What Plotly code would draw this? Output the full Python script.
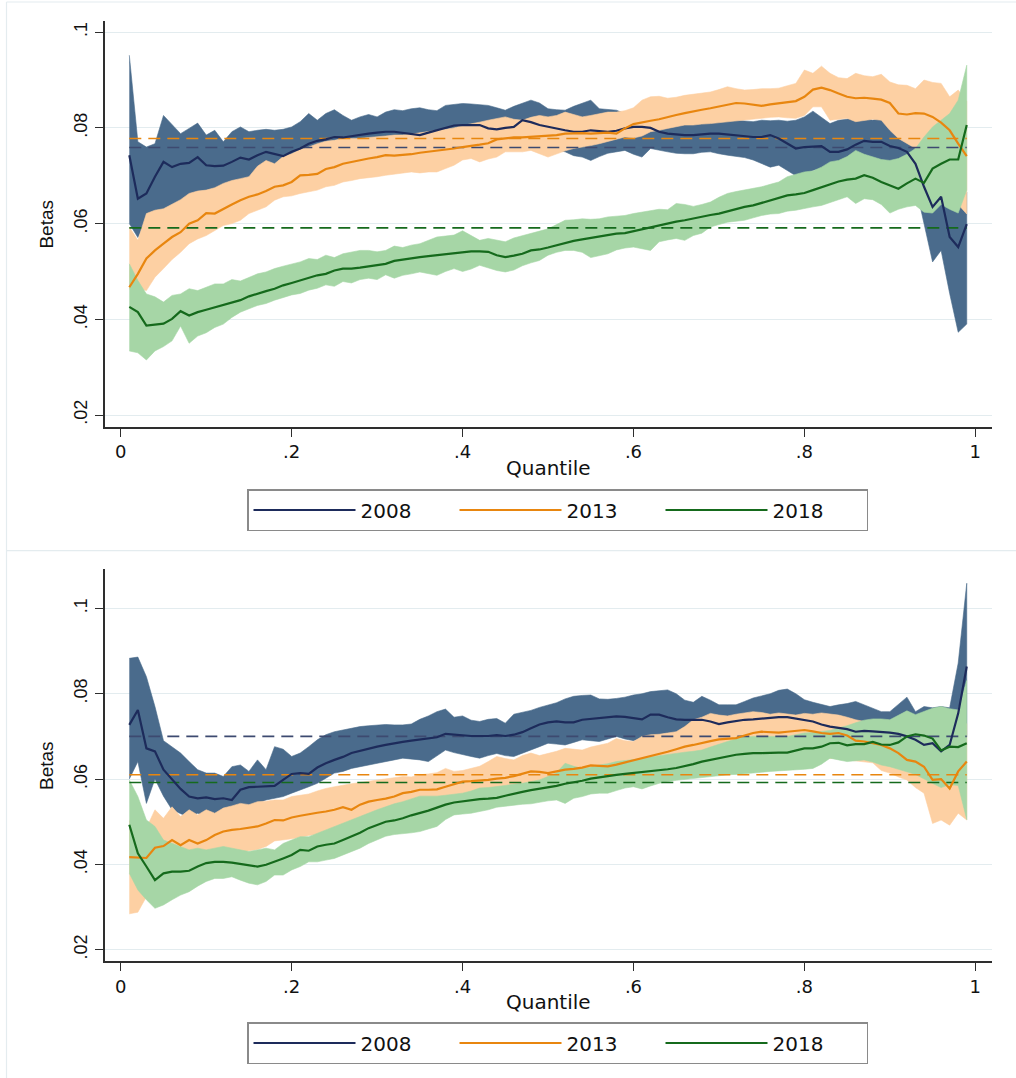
import plotly.graph_objects as go

# ---------------- data ----------------
quantile = [0.01, 0.02, 0.03, 0.04, 0.05, 0.06, 0.07, 0.08, 0.09, 0.10,
            0.11, 0.12, 0.13, 0.14, 0.15, 0.16, 0.17, 0.18, 0.19, 0.20,
            0.21, 0.22, 0.23, 0.24, 0.25, 0.26, 0.27, 0.28, 0.29, 0.30,
            0.31, 0.32, 0.33, 0.34, 0.35, 0.36, 0.37, 0.38, 0.39, 0.40,
            0.41, 0.42, 0.43, 0.44, 0.45, 0.46, 0.47, 0.48, 0.49, 0.50,
            0.51, 0.52, 0.53, 0.54, 0.55, 0.56, 0.57, 0.58, 0.59, 0.60,
            0.61, 0.62, 0.63, 0.64, 0.65, 0.66, 0.67, 0.68, 0.69, 0.70,
            0.71, 0.72, 0.73, 0.74, 0.75, 0.76, 0.77, 0.78, 0.79, 0.80,
            0.81, 0.82, 0.83, 0.84, 0.85, 0.86, 0.87, 0.88, 0.89, 0.90,
            0.91, 0.92, 0.93, 0.94, 0.95, 0.96, 0.97, 0.98, 0.99]

years = ["2008", "2013", "2018"]

# ---- top panel ----
top_2008 = [.0743, .0652, .0663, .0698, .0729, .0718, .0725, .0727, .0739, .0722,
            .0720, .0721, .0729, .0738, .0734, .0743, .0750, .0746, .0741, .0750,
            .0757, .0767, .0773, .0776, .0781, .0780, .0783, .0785, .0788, .0790,
            .0792, .0792, .0790, .0788, .0785, .0790, .0795, .0800, .0805, .0806,
            .0806, .0806, .0799, .0797, .0800, .0802, .0816, .0812, .0806, .0802,
            .0798, .0795, .0792, .0792, .0795, .0793, .0792, .0794, .0799, .0802,
            .0802, .0800, .0792, .0788, .0786, .0785, .0785, .0787, .0788, .0788,
            .0786, .0784, .0782, .0781, .0781, .0785, .0778, .0768, .0757, .0760,
            .0761, .0762, .0750, .0750, .0755, .0765, .0773, .0771, .0771, .0762,
            .0758, .0750, .0725, .0677, .0635, .0656, .0572, .0551, .0599]
top_2008_hi = [.0952, .0771, .0760, .0767, .0826, .0806, .0788, .0799, .0810, .0785,
               .0795, .0771, .0792, .0802, .0792, .0795, .0797, .0795, .0797, .0802,
               .0813, .0830, .0816, .0830, .0838, .0826, .0816, .0823, .0828, .0823,
               .0833, .0838, .0836, .0840, .0842, .0838, .0836, .0847, .0849, .0851,
               .0850, .0848, .0847, .0842, .0837, .0845, .0851, .0858, .0852, .0840,
               .0838, .0837, .0845, .0852, .0858, .0840, .0838, .0837, .0830, .0823,
               .0820, .0818, .0818, .0820, .0818, .0816, .0816, .0818, .0818, .0816,
               .0815, .0816, .0815, .0813, .0816, .0815, .0816, .0814, .0816, .0823,
               .0835, .0822, .0809, .0816, .0818, .0820, .0823, .0816, .0823, .0809,
               .0781, .0775, .0767, .0720, .0690, .0695, .0660, .0640, .0665]
top_2008_lo = [.0600, .0571, .0607, .0614, .0624, .0631, .0638, .0645, .0656, .0663,
               .0666, .0670, .0677, .0684, .0685, .0698, .0695, .0701, .0706, .0708,
               .0718, .0732, .0739, .0750, .0753, .0756, .0756, .0760, .0758, .0761,
               .0763, .0761, .0763, .0760, .0758, .0762, .0765, .0765, .0766, .0768,
               .0768, .0765, .0760, .0758, .0760, .0762, .0775, .0770, .0766, .0762,
               .0755, .0750, .0742, .0739, .0732, .0740, .0747, .0750, .0753, .0745,
               .0739, .0757, .0753, .0750, .0747, .0746, .0746, .0749, .0750, .0746,
               .0743, .0740, .0738, .0733, .0725, .0718, .0722, .0711, .0700, .0703,
               .0711, .0716, .0718, .0720, .0722, .0725, .0728, .0728, .0725, .0715,
               .0712, .0700, .0680, .0600, .0520, .0544, .0454, .0373, .0390]

top_2013 = [.0467, .0495, .0527, .0544, .0558, .0572, .0582, .0600, .0607, .0622,
            .0621, .0631, .0640, .0649, .0656, .0661, .0668, .0677, .0680, .0687,
            .0701, .0702, .0704, .0714, .0718, .0725, .0729, .0732, .0736, .0739,
            .0743, .0742, .0743, .0745, .0748, .0750, .0752, .0754, .0757, .0760,
            .0762, .0765, .0768, .0776, .0778, .0780, .0780, .0781, .0783, .0784,
            .0785, .0788, .0789, .0789, .0788, .0789, .0790, .0788, .0799, .0808,
            .0812, .0815, .0818, .0823, .0827, .0831, .0835, .0838, .0841, .0845,
            .0849, .0852, .0851, .0848, .0846, .0849, .0851, .0853, .0856, .0865,
            .0880, .0884, .0879, .0872, .0865, .0862, .0863, .0861, .0859, .0852,
            .0830, .0828, .0831, .0830, .0823, .0811, .0795, .0767, .0741]
top_2013_hi = [.0593, .0565, .0621, .0628, .0631, .0640, .0650, .0663, .0668, .0670,
               .0675, .0684, .0690, .0694, .0698, .0720, .0732, .0725, .0740, .0746,
               .0755, .0760, .0767, .0772, .0774, .0778, .0778, .0778, .0780, .0781,
               .0783, .0785, .0785, .0787, .0790, .0793, .0795, .0797, .0800, .0805,
               .0808, .0812, .0816, .0820, .0823, .0818, .0816, .0822, .0826, .0823,
               .0826, .0833, .0828, .0823, .0826, .0830, .0833, .0833, .0836, .0842,
               .0858, .0865, .0866, .0862, .0864, .0868, .0870, .0872, .0875, .0880,
               .0886, .0882, .0879, .0880, .0882, .0882, .0883, .0888, .0893, .0921,
               .0914, .0929, .0914, .0905, .0903, .0914, .0909, .0907, .0912, .0896,
               .0890, .0889, .0882, .0900, .0895, .0893, .0865, .0879, .0855]
top_2013_lo = [.0463, .0465, .0460, .0488, .0506, .0525, .0540, .0558, .0568, .0575,
               .0585, .0596, .0600, .0607, .0621, .0628, .0635, .0649, .0656, .0658,
               .0663, .0667, .0670, .0677, .0680, .0687, .0690, .0694, .0696, .0698,
               .0701, .0704, .0706, .0708, .0706, .0708, .0708, .0715, .0722, .0733,
               .0736, .0729, .0735, .0739, .0750, .0750, .0750, .0753, .0746, .0739,
               .0745, .0752, .0757, .0760, .0763, .0767, .0772, .0776, .0781, .0779,
               .0783, .0792, .0795, .0799, .0803, .0806, .0806, .0808, .0809, .0811,
               .0813, .0815, .0816, .0818, .0820, .0822, .0823, .0821, .0820, .0826,
               .0844, .0844, .0816, .0818, .0820, .0813, .0816, .0818, .0816, .0795,
               .0778, .0768, .0757, .0730, .0710, .0690, .0665, .0640, .0620]

top_2018 = [.0426, .0415, .0387, .0389, .0391, .0401, .0417, .0408, .0415, .0420,
            .0425, .0431, .0436, .0440, .0448, .0454, .0459, .0464, .0471, .0476,
            .0481, .0487, .0492, .0495, .0502, .0506, .0506, .0508, .0511, .0513,
            .0516, .0522, .0525, .0528, .0530, .0532, .0534, .0535, .0537, .0539,
            .0542, .0542, .0541, .0534, .0530, .0533, .0537, .0544, .0546, .0550,
            .0555, .0560, .0564, .0567, .0570, .0572, .0576, .0579, .0580, .0584,
            .0588, .0593, .0597, .0600, .0604, .0607, .0611, .0614, .0618, .0621,
            .0626, .0630, .0635, .0638, .0643, .0648, .0653, .0659, .0661, .0664,
            .0670, .0676, .0682, .0688, .0692, .0694, .0701, .0696, .0687, .0680,
            .0673, .0684, .0694, .0685, .0715, .0725, .0734, .0734, .0806]
top_2018_hi = [.0516, .0481, .0453, .0447, .0436, .0450, .0453, .0464, .0460, .0467,
               .0474, .0474, .0483, .0480, .0488, .0495, .0499, .0506, .0511, .0516,
               .0520, .0527, .0525, .0534, .0529, .0537, .0541, .0544, .0544, .0541,
               .0544, .0553, .0550, .0555, .0558, .0565, .0572, .0574, .0576, .0585,
               .0575, .0565, .0569, .0566, .0562, .0570, .0575, .0579, .0585, .0589,
               .0598, .0607, .0608, .0610, .0609, .0610, .0614, .0615, .0617, .0621,
               .0624, .0628, .0630, .0629, .0642, .0640, .0636, .0640, .0645, .0655,
               .0663, .0667, .0670, .0673, .0677, .0682, .0687, .0698, .0703, .0708,
               .0710, .0718, .0729, .0732, .0740, .0753, .0745, .0740, .0734, .0732,
               .0736, .0745, .0757, .0781, .0802, .0816, .0830, .0858, .0931]
top_2018_lo = [.0334, .0330, .0315, .0334, .0343, .0355, .0386, .0350, .0365, .0372,
               .0383, .0390, .0404, .0415, .0422, .0429, .0433, .0440, .0446, .0451,
               .0454, .0461, .0465, .0472, .0469, .0479, .0476, .0483, .0486, .0483,
               .0493, .0486, .0492, .0495, .0499, .0495, .0492, .0500, .0506, .0500,
               .0505, .0513, .0508, .0502, .0499, .0503, .0512, .0518, .0523, .0534,
               .0540, .0544, .0544, .0540, .0529, .0533, .0537, .0545, .0549, .0551,
               .0547, .0544, .0562, .0566, .0569, .0565, .0575, .0580, .0593, .0598,
               .0603, .0605, .0607, .0612, .0617, .0620, .0621, .0626, .0628, .0631,
               .0635, .0638, .0645, .0650, .0656, .0642, .0652, .0650, .0640, .0622,
               .0630, .0635, .0638, .0624, .0622, .0640, .0630, .0622, .0670]

top_mean = [0.0759, 0.0778, 0.0591]   # 2008, 2013, 2018 (dashed)

# ---- bottom panel ----
bot_2008 = [.0727, .0762, .0672, .0665, .0622, .0600, .0577, .0559, .0555, .0557,
            .0553, .0555, .0551, .0575, .0581, .0582, .0583, .0584, .0598, .0612,
            .0614, .0612, .0627, .0637, .0645, .0652, .0661, .0666, .0672, .0676,
            .0680, .0684, .0687, .0690, .0693, .0695, .0698, .0706, .0704, .0703,
            .0701, .0701, .0701, .0703, .0701, .0704, .0710, .0719, .0728, .0733,
            .0735, .0733, .0733, .0739, .0741, .0744, .0746, .0747, .0746, .0743,
            .0740, .0751, .0751, .0745, .0740, .0739, .0739, .0739, .0735, .0729,
            .0733, .0736, .0739, .0740, .0742, .0744, .0745, .0745, .0742, .0739,
            .0735, .0728, .0723, .0720, .0717, .0711, .0713, .0712, .0711, .0709,
            .0706, .0700, .0692, .0680, .0684, .0665, .0680, .0754, .0864]
bot_2008_hi = [.0883, .0886, .0840, .0770, .0690, .0676, .0661, .0641, .0622, .0614,
               .0614, .0606, .0629, .0633, .0618, .0645, .0622, .0676, .0670, .0653,
               .0661, .0676, .0692, .0704, .0711, .0715, .0719, .0723, .0725, .0727,
               .0728, .0727, .0727, .0729, .0740, .0748, .0758, .0764, .0745, .0748,
               .0738, .0735, .0740, .0742, .0731, .0752, .0756, .0761, .0768, .0774,
               .0779, .0788, .0794, .0796, .0797, .0788, .0787, .0789, .0792, .0797,
               .0800, .0805, .0807, .0809, .0800, .0785, .0780, .0794, .0785, .0774,
               .0774, .0774, .0782, .0790, .0795, .0800, .0808, .0811, .0800, .0786,
               .0780, .0775, .0770, .0774, .0777, .0782, .0774, .0766, .0758, .0758,
               .0775, .0792, .0758, .0770, .0767, .0770, .0767, .0872, .1059]
bot_2008_lo = [.0600, .0641, .0543, .0600, .0560, .0528, .0520, .0510, .0520, .0512,
               .0504, .0520, .0528, .0536, .0540, .0543, .0551, .0555, .0559, .0567,
               .0575, .0582, .0590, .0602, .0614, .0618, .0625, .0629, .0633, .0637,
               .0641, .0645, .0649, .0647, .0645, .0641, .0655, .0668, .0662, .0657,
               .0653, .0649, .0655, .0660, .0655, .0653, .0660, .0668, .0676, .0684,
               .0682, .0680, .0686, .0692, .0690, .0688, .0694, .0700, .0694, .0690,
               .0696, .0700, .0704, .0708, .0703, .0700, .0700, .0698, .0697, .0695,
               .0697, .0699, .0700, .0700, .0700, .0700, .0698, .0696, .0695, .0692,
               .0690, .0686, .0682, .0680, .0678, .0673, .0670, .0667, .0664, .0660,
               .0655, .0648, .0640, .0633, .0630, .0600, .0620, .0660, .0700]

bot_2013 = [.0417, .0416, .0415, .0439, .0443, .0457, .0445, .0457, .0449, .0457,
            .0469, .0477, .0481, .0483, .0486, .0489, .0496, .0504, .0503, .0510,
            .0514, .0518, .0521, .0524, .0528, .0534, .0528, .0540, .0547, .0551,
            .0554, .0559, .0567, .0570, .0575, .0575, .0576, .0582, .0588, .0594,
            .0595, .0596, .0598, .0601, .0603, .0607, .0612, .0618, .0617, .0614,
            .0618, .0622, .0624, .0627, .0632, .0631, .0630, .0634, .0639, .0643,
            .0648, .0654, .0659, .0664, .0670, .0676, .0680, .0685, .0689, .0693,
            .0694, .0696, .0702, .0708, .0711, .0710, .0709, .0711, .0713, .0715,
            .0712, .0708, .0706, .0708, .0702, .0690, .0688, .0684, .0680, .0672,
            .0661, .0645, .0641, .0629, .0598, .0600, .0578, .0618, .0641]
bot_2013_hi = [.0500, .0543, .0485, .0528, .0508, .0535, .0512, .0528, .0516, .0528,
               .0520, .0532, .0537, .0543, .0540, .0547, .0548, .0551, .0551, .0559,
               .0562, .0565, .0572, .0578, .0582, .0586, .0589, .0592, .0595, .0598,
               .0600, .0603, .0606, .0605, .0610, .0612, .0615, .0625, .0618, .0620,
               .0625, .0630, .0641, .0653, .0648, .0645, .0655, .0661, .0655, .0660,
               .0665, .0672, .0670, .0668, .0675, .0680, .0684, .0695, .0690, .0688,
               .0700, .0704, .0705, .0708, .0711, .0723, .0739, .0745, .0754, .0750,
               .0748, .0752, .0755, .0758, .0756, .0752, .0755, .0753, .0750, .0754,
               .0752, .0755, .0752, .0750, .0745, .0739, .0735, .0730, .0726, .0722,
               .0718, .0712, .0705, .0700, .0695, .0690, .0695, .0715, .0730]
bot_2013_lo = [.0284, .0288, .0324, .0350, .0380, .0390, .0395, .0400, .0405, .0410,
               .0415, .0420, .0425, .0428, .0432, .0435, .0442, .0455, .0457, .0460,
               .0463, .0468, .0470, .0472, .0475, .0480, .0478, .0485, .0490, .0496,
               .0500, .0505, .0510, .0515, .0518, .0520, .0522, .0527, .0532, .0538,
               .0540, .0542, .0545, .0548, .0550, .0553, .0557, .0562, .0563, .0562,
               .0566, .0570, .0572, .0575, .0580, .0580, .0578, .0583, .0588, .0592,
               .0596, .0601, .0606, .0612, .0617, .0622, .0625, .0628, .0630, .0632,
               .0634, .0638, .0642, .0646, .0650, .0652, .0655, .0655, .0655, .0656,
               .0655, .0650, .0648, .0650, .0645, .0643, .0640, .0638, .0620, .0614,
               .0605, .0598, .0580, .0567, .0496, .0504, .0492, .0520, .0504]

bot_2018 = [.0493, .0426, .0395, .0363, .0379, .0383, .0383, .0385, .0395, .0403,
            .0406, .0406, .0404, .0401, .0397, .0395, .0399, .0406, .0414, .0422,
            .0434, .0432, .0442, .0446, .0449, .0457, .0465, .0474, .0485, .0492,
            .0500, .0503, .0508, .0515, .0520, .0526, .0533, .0540, .0545, .0548,
            .0551, .0553, .0554, .0556, .0561, .0566, .0570, .0574, .0577, .0580,
            .0584, .0589, .0592, .0596, .0601, .0604, .0608, .0610, .0612, .0614,
            .0616, .0619, .0621, .0623, .0626, .0630, .0635, .0641, .0645, .0649,
            .0653, .0657, .0659, .0661, .0661, .0662, .0662, .0662, .0667, .0672,
            .0672, .0676, .0684, .0685, .0679, .0682, .0682, .0687, .0681, .0680,
            .0686, .0700, .0705, .0702, .0695, .0667, .0676, .0675, .0684]
bot_2018_hi = [.0598, .0559, .0504, .0489, .0457, .0449, .0442, .0434, .0438, .0434,
               .0438, .0442, .0438, .0434, .0430, .0434, .0438, .0434, .0449, .0457,
               .0465, .0465, .0473, .0481, .0489, .0496, .0504, .0512, .0520, .0528,
               .0535, .0542, .0547, .0553, .0560, .0560, .0560, .0562, .0565, .0567,
               .0572, .0579, .0580, .0582, .0585, .0588, .0590, .0594, .0598, .0606,
               .0615, .0637, .0630, .0625, .0628, .0633, .0636, .0641, .0643, .0645,
               .0648, .0652, .0655, .0658, .0661, .0663, .0665, .0668, .0675, .0682,
               .0688, .0694, .0698, .0700, .0700, .0700, .0700, .0700, .0704, .0708,
               .0709, .0711, .0714, .0720, .0725, .0732, .0738, .0741, .0741, .0739,
               .0750, .0760, .0751, .0758, .0766, .0770, .0765, .0762, .0831]
bot_2018_lo = [.0379, .0340, .0317, .0297, .0305, .0317, .0328, .0336, .0349, .0360,
               .0367, .0367, .0371, .0363, .0356, .0352, .0360, .0375, .0375, .0387,
               .0395, .0406, .0406, .0410, .0414, .0422, .0430, .0438, .0449, .0457,
               .0466, .0470, .0472, .0474, .0477, .0483, .0489, .0505, .0516, .0518,
               .0520, .0524, .0528, .0534, .0537, .0539, .0541, .0542, .0545, .0549,
               .0551, .0543, .0555, .0559, .0565, .0567, .0567, .0573, .0579, .0582,
               .0577, .0584, .0590, .0594, .0597, .0599, .0602, .0604, .0606, .0608,
               .0610, .0611, .0613, .0614, .0616, .0618, .0619, .0621, .0622, .0623,
               .0625, .0635, .0649, .0645, .0641, .0643, .0645, .0640, .0633, .0629,
               .0623, .0617, .0611, .0600, .0590, .0580, .0587, .0585, .0505]

bot_mean = [0.0700, 0.0610, 0.0592]   # 2008, 2013, 2018 (dashed)

x_tickvals = [0, 0.2, 0.4, 0.6, 0.8, 1]
x_ticktext = ["0", ".2", ".4", ".6", ".8", "1"]
y_tickvals = [0.02, 0.04, 0.06, 0.08, 0.1]
y_ticktext = [".02", ".04", ".06", ".08", ".1"]

# ---------------- style ----------------
W, H = 1016, 1078
LINE_COL = ["#1d2b5b", "#e8860f", "#156a1c"]
BAND_COL = ["#4a6b8c", "#fdd0a3", "#a6d6a6"]
DASH_COL = ["#3d4a70", "#e8860f", "#156a1c"]
FONT_H = "DejaVu Sans, Verdana, sans-serif"          # horizontal text
FONT_V = "Liberation Sans, Arial, Helvetica, sans-serif"  # rotated text
TXT = "#111111"
AX = "#2e2e2e"

def fx(px):
    return px / W

def fy(py):
    return 1 - py / H

panels = [
    dict(xa="x", ya="y", legend="legend",
         lines=[top_2008, top_2013, top_2018],
         his=[top_2008_hi, top_2013_hi, top_2018_hi],
         los=[top_2008_lo, top_2013_lo, top_2018_lo],
         means=top_mean),
    dict(xa="x2", ya="y2", legend="legend2",
         lines=[bot_2008, bot_2013, bot_2018],
         his=[bot_2008_hi, bot_2013_hi, bot_2018_hi],
         los=[bot_2008_lo, bot_2013_lo, bot_2018_lo],
         means=bot_mean),
]

fig = go.Figure()
for p in panels:
    # confidence bands
    for i in range(3):
        fig.add_trace(go.Scatter(
            x=quantile + quantile[::-1],
            y=p["his"][i] + p["los"][i][::-1],
            fill="toself", fillcolor=BAND_COL[i],
            line=dict(color=BAND_COL[i], width=0.6),
            mode="lines", hoverinfo="skip", showlegend=False,
            xaxis=p["xa"], yaxis=p["ya"]))
    # dashed average lines
    for i in range(3):
        fig.add_trace(go.Scatter(
            x=[quantile[0], quantile[-1]], y=[p["means"][i], p["means"][i]],
            mode="lines", line=dict(color=DASH_COL[i], width=1.6, dash="12px,7px"),
            hoverinfo="skip", showlegend=False,
            xaxis=p["xa"], yaxis=p["ya"]))
    # quantile estimates
    for i in range(3):
        fig.add_trace(go.Scatter(
            x=quantile, y=p["lines"][i], name=years[i],
            mode="lines", line=dict(color=LINE_COL[i], width=2.2),
            showlegend=True, legend=p["legend"],
            xaxis=p["xa"], yaxis=p["ya"]))

xdom = [fx(105.3), fx(991.7)]
xrange_ = [-0.0181, 1.0192]

def xaxis_cfg(anchor):
    return dict(domain=xdom, range=xrange_, anchor=anchor,
                showline=True, linecolor=AX, linewidth=1.6,
                ticks="outside", ticklen=8, tickwidth=1.4, tickcolor=AX,
                tickvals=x_tickvals, ticktext=x_ticktext,
                tickfont=dict(family=FONT_H, size=18, color=TXT),
                showgrid=False, zeroline=False, fixedrange=True)

def yaxis_cfg(anchor, dom, rng):
    return dict(domain=dom, range=rng, anchor=anchor,
                showline=True, linecolor=AX, linewidth=1.6,
                ticks="outside", ticklen=9, tickwidth=1.4, tickcolor=AX,
                tickvals=y_tickvals, ticktext=y_ticktext, tickangle=-90,
                tickfont=dict(family=FONT_V, size=18, color=TXT),
                showgrid=True, gridcolor="#e3ecef", gridwidth=1.2,
                zeroline=False, fixedrange=True)

legend_common = dict(orientation="h", xanchor="left", yanchor="top",
                     bgcolor="white", bordercolor="#8a8a8a", borderwidth=1.5,
                     font=dict(family=FONT_H, size=20, color=TXT),
                     itemwidth=102, entrywidth=89, tracegroupgap=0,
                     itemclick=False, itemdoubleclick=False)

annotations = []
for (ymid, ylab) in [(223.9, 468.4), (765.3, 1001.5)]:
    annotations.append(dict(text="Betas", x=fx(46.7), y=fy(ymid), xref="paper", yref="paper",
                            xanchor="center", yanchor="middle",
                            textangle=-90, showarrow=False,
                            font=dict(family=FONT_V, size=19, color=TXT)))
    annotations.append(dict(text="Quantile", x=fx(548.5), y=fy(ylab), xref="paper", yref="paper",
                            xanchor="center", yanchor="middle",
                            showarrow=False, font=dict(family=FONT_H, size=20, color=TXT)))

FRAME = dict(color="#e4ecef", width=1.2)
shapes = [
    dict(type="line", xref="paper", yref="paper", x0=fx(6.5), x1=1, y0=fy(2), y1=fy(2), line=FRAME, layer="below"),
    dict(type="line", xref="paper", yref="paper", x0=fx(6.5), x1=1, y0=fy(550.7), y1=fy(550.7), line=FRAME, layer="below"),
    dict(type="line", xref="paper", yref="paper", x0=fx(6.5), x1=fx(6.5), y0=fy(2), y1=0, line=FRAME, layer="below"),
]

fig.update_layout(
    width=W, height=H, autosize=False,
    margin=dict(l=0, r=0, t=0, b=0),
    paper_bgcolor="white", plot_bgcolor="white",
    font=dict(family=FONT_H, color=TXT),
    xaxis=xaxis_cfg("y"),
    yaxis=yaxis_cfg("x", [fy(427.0), fy(20.7)], [0.0175, 0.1024]),
    xaxis2=xaxis_cfg("y2"),
    yaxis2=yaxis_cfg("x2", [fy(961.3), fy(569.2)], [0.01728, 0.1092]),
    legend=dict(x=fx(247), y=fy(489), **legend_common),
    legend2=dict(x=fx(247), y=fy(1022), **legend_common),
    annotations=annotations,
    shapes=shapes,
    showlegend=True,
    hovermode=False,
)

fig.write_html("out.html", config={"displayModeBar": False})
